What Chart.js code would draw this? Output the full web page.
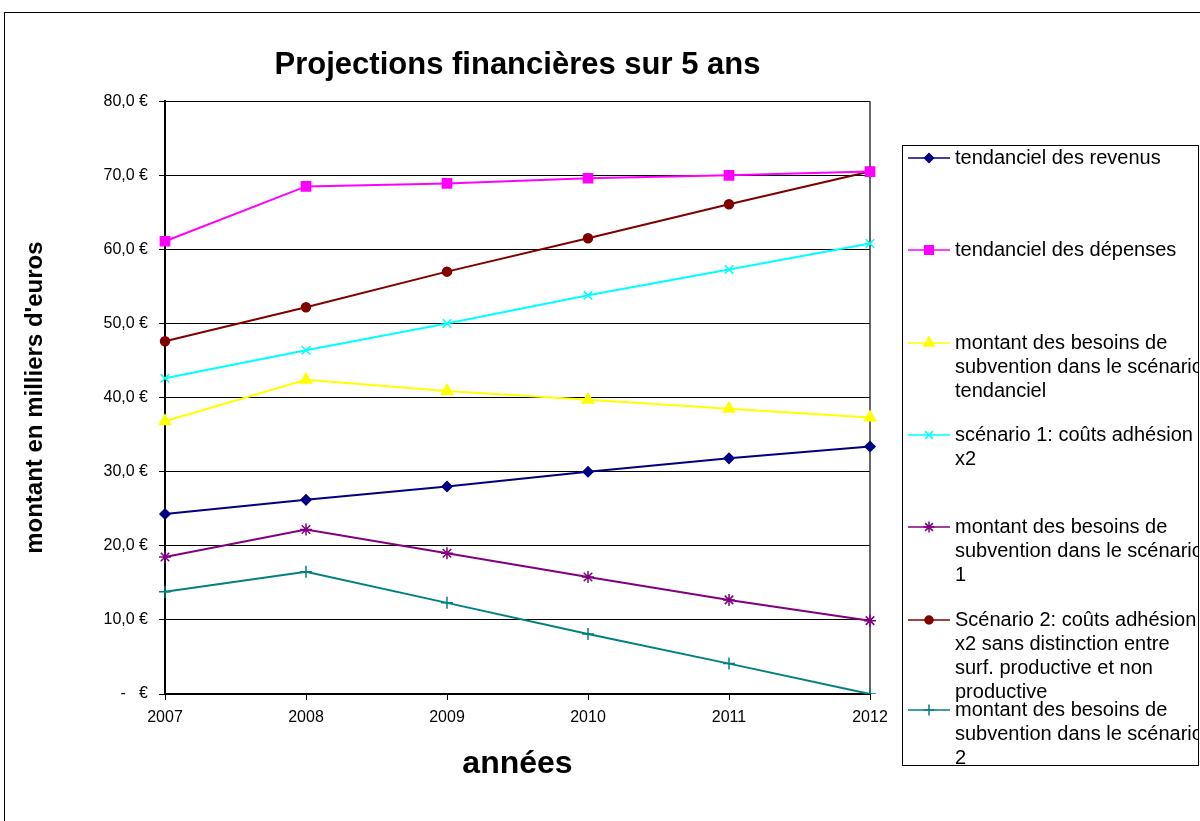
<!DOCTYPE html>
<html lang="fr">
<head>
<meta charset="utf-8">
<title>Projections financières sur 5 ans</title>
<script src="https://cdn.jsdelivr.net/npm/chart.js@4.4.0/dist/chart.umd.min.js"></script>
<style>
  html, body { margin: 0; padding: 0; background: #fff; }
  #wrap { width: 1200px; height: 821px; }
</style>
</head>
<body>
<div id="wrap"><canvas id="projChart" width="1200" height="821"></canvas></div>
<script>
// valeurs (milliers d'euros)
const years = ['2007', '2008', '2009', '2010', '2011', '2012'];
const revenus = [24.3, 26.2, 28.0, 30.0, 31.8, 33.4];
const depenses = [61.1, 68.5, 68.9, 69.6, 70.0, 70.5];
const besoinsTendanciel = [36.8, 42.4, 40.9, 39.7, 38.5, 37.3];
const scenario1 = [42.6, 46.4, 50.0, 53.8, 57.3, 60.8];
const besoinsScenario1 = [18.5, 22.2, 19.0, 15.8, 12.7, 9.9];
const scenario2 = [47.6, 52.2, 57.0, 61.5, 66.1, 70.5];
const besoinsScenario2 = [13.8, 16.5, 12.3, 8.1, 4.1, 0.0];
const yTickLabels = ['-   €', '10,0 €', '20,0 €', '30,0 €', '40,0 €', '50,0 €', '60,0 €', '70,0 €', '80,0 €'];

// libellés de légende, coupés comme dans Excel
const labelRevenus = ['tendanciel des revenus'];
const labelDepenses = ['tendanciel des dépenses'];
const labelBesoinsTend = ['montant des besoins de', 'subvention dans le scénario', 'tendanciel'];
const labelScen1 = ['scénario 1: coûts adhésion', 'x2'];
const labelBesoins1 = ['montant des besoins de', 'subvention dans le scénario', '1'];
const labelScen2 = ['Scénario 2: coûts adhésion', 'x2 sans distinction entre', 'surf. productive et non', 'productive'];
const labelBesoins2 = ['montant des besoins de', 'subvention dans le scénario', '2'];

const FONT = 'Arial, "Liberation Sans", sans-serif';

function serie(lines, data, color, pointStyle, radius) {
    return {
        label: lines.join(' '),
        legendLines: lines,
        data: data,
        borderColor: color,
        backgroundColor: color,
        pointBackgroundColor: color,
        pointBorderColor: color,
        pointStyle: pointStyle,
        pointRadius: radius,
        pointHoverRadius: radius,
        pointBorderWidth: 1.5,
        borderWidth: 2,
        tension: 0,
        fill: false
    };
}

// cadre du graphique, bord droit de la zone de tracé
const frames = {
    id: 'frames',
    beforeDraw(chart) {
        const ctx = chart.ctx;
        ctx.save();
        ctx.fillStyle = '#fff';
        ctx.fillRect(0, 0, chart.width, chart.height);
        ctx.strokeStyle = '#000';
        ctx.lineWidth = 1;
        ctx.strokeRect(4.5, 12.5, 1300, 900);
        ctx.restore();
    },
    beforeDatasetsDraw(chart) {
        const a = chart.chartArea;
        const ctx = chart.ctx;
        ctx.save();
        ctx.strokeStyle = '#333';
        ctx.lineWidth = 1.5;
        ctx.beginPath();
        ctx.moveTo(a.right, a.top);
        ctx.lineTo(a.right, a.bottom);
        ctx.stroke();
        ctx.restore();
    }
};

// légende façon Excel, à droite
const excelLegend = {
    id: 'excelLegend',
    afterDraw(chart) {
        const ctx = chart.ctx;
        const entryY = [158, 250, 343, 435, 527, 620, 710];
        const lineH = 24;
        ctx.save();
        ctx.strokeStyle = '#000';
        ctx.lineWidth = 1;
        ctx.strokeRect(902.5, 145.5, 296, 620);
        ctx.beginPath();
        ctx.rect(903, 146, 295, 619);
        ctx.clip();
        ctx.font = '20px ' + FONT;
        ctx.textBaseline = 'middle';
        ctx.textAlign = 'left';
        chart.data.datasets.forEach((ds, i) => {
            const y = entryY[i];
            ctx.strokeStyle = ds.borderColor;
            ctx.lineWidth = 1.5;
            ctx.beginPath();
            ctx.moveTo(908, y);
            ctx.lineTo(950, y);
            ctx.stroke();
            ctx.fillStyle = ds.pointBackgroundColor;
            ctx.strokeStyle = ds.pointBorderColor;
            Chart.helpers.drawPoint(ctx, {
                pointStyle: ds.pointStyle,
                radius: ds.pointRadius - 0.5,
                borderWidth: 1.5,
                rotation: 0
            }, 929, y);
            ctx.fillStyle = '#000';
            ds.legendLines.forEach((t, k) => {
                ctx.fillText(t, 955, y + k * lineH);
            });
        });
        ctx.restore();
    }
};

const ctx = document.getElementById('projChart').getContext('2d');
new Chart(ctx, {
    type: 'line',
    data: {
        labels: years,
        datasets: [
            serie(labelRevenus, revenus, '#000080', 'rectRot', 5),
            serie(labelDepenses, depenses, '#FF00FF', 'rect', 6.5),
            serie(labelBesoinsTend, besoinsTendanciel, '#FFFF00', 'triangle', 6.5),
            serie(labelScen1, scenario1, '#00FFFF', 'crossRot', 6),
            serie(labelBesoins1, besoinsScenario1, '#800080', 'star', 6),
            serie(labelScen2, scenario2, '#800000', 'circle', 4.5),
            serie(labelBesoins2, besoinsScenario2, '#008080', 'cross', 6)
        ]
    },
    options: {
        responsive: false,
        animation: false,
        devicePixelRatio: 1,
        layout: {
            padding: { left: 5, top: 0, right: 330, bottom: 0 }
        },
        plugins: {
            legend: { display: false },
            tooltip: { enabled: false },
            title: {
                display: true,
                text: 'Projections financières sur 5 ans',
                fullSize: false,
                color: '#000',
                font: { family: FONT, size: 31, weight: 'bold' },
                padding: { top: 47, bottom: 17 }
            }
        },
        scales: {
            x: {
                type: 'category',
                offset: false,
                grid: {
                    display: true,
                    drawOnChartArea: false,
                    drawTicks: true,
                    tickLength: 6,
                    color: '#000'
                },
                border: { display: true, color: '#000', width: 2 },
                ticks: {
                    color: '#000',
                    padding: 8,
                    maxRotation: 0,
                    font: { family: FONT, size: 16 }
                },
                title: {
                    display: true,
                    text: 'années',
                    color: '#000',
                    font: { family: FONT, size: 32, weight: 'bold' },
                    padding: { top: 0, bottom: 38 }
                },
                afterFit(scale) { scale.height = 127; }
            },
            y: {
                min: 0,
                max: 80,
                ticks: {
                    stepSize: 10,
                    color: '#000',
                    padding: 11,
                    font: { family: FONT, size: 16 },
                    callback: (v, i) => yTickLabels[i]
                },
                grid: {
                    color: '#000',
                    lineWidth: 1,
                    tickLength: 6,
                    drawTicks: true
                },
                border: { display: true, color: '#000', width: 2 },
                title: {
                    display: true,
                    text: "montant en milliers d'euros",
                    color: '#000',
                    font: { family: FONT, size: 24, weight: 'bold' },
                    padding: { top: 16, bottom: 0 }
                },
                afterFit(scale) { scale.width = 160; }
            }
        }
    },
    plugins: [frames, excelLegend]
});
</script>
</body>
</html>
